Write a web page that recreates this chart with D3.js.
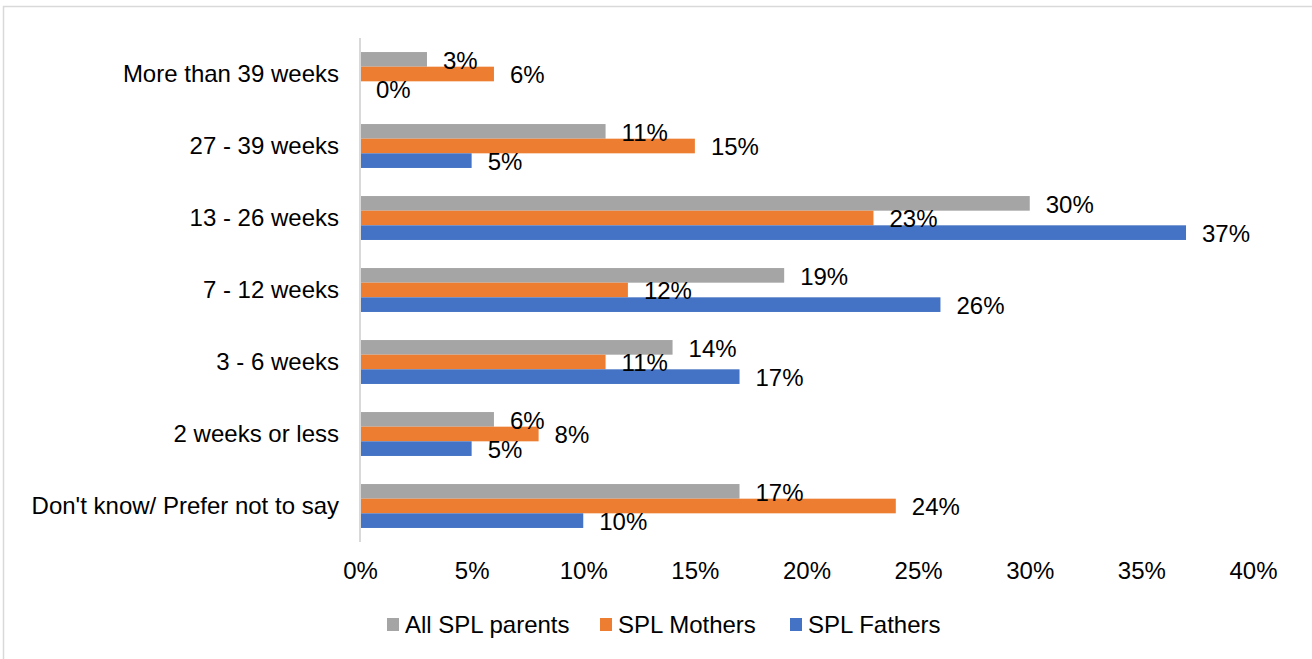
<!DOCTYPE html>
<html>
<head>
<meta charset="utf-8">
<title>SPL length</title>
<style>
  html, body {margin: 0; padding: 0; background: #fff; overflow: hidden;}
  svg {display: block; font-family: "Liberation Sans", Arial, sans-serif;}
</style>
</head>
<body>
<div id="chart"></div>
<script src="https://cdn.jsdelivr.net/npm/d3@7"></script>
<script>
// chart values
var categories = ["More than 39 weeks", "27 - 39 weeks", "13 - 26 weeks", "7 - 12 weeks",
                  "3 - 6 weeks", "2 weeks or less", "Don't know/ Prefer not to say"];
var seriesNames = ["All SPL parents", "SPL Mothers", "SPL Fathers"];
var allParents = [3, 11, 30, 19, 14, 6, 17];
var mothers = [6, 15, 23, 12, 11, 8, 24];
var fathers = [0, 5, 37, 26, 17, 5, 10];
var xTicks = [0, 5, 10, 15, 20, 25, 30, 35, 40];
var colors = ["#a5a5a5", "#ed7d31", "#4472c4"];

var seriesValues = [allParents, mothers, fathers];

var width = 1312, height = 659;
var plot = {left: 360, right: 1253, top: 38, bottom: 542};
var fontSize = "24px";

var svg = d3.select("#chart").append("svg")
    .attr("width", width)
    .attr("height", height);

// outer chart border (only top/left show in the frame)
svg.append("rect")
    .attr("x", 3.5).attr("y", 6.5)
    .attr("width", 1320).attr("height", 670)
    .attr("fill", "none")
    .attr("stroke", "#d9d9d9")
    .attr("stroke-width", 1.5);

var x = d3.scaleLinear().domain([0, 40]).range([plot.left, plot.right]);
var y = d3.scaleBand().domain(categories).range([plot.top, plot.bottom])
    .paddingInner(0.39).paddingOuter(0.195);
var ySub = d3.scaleBand().domain(seriesNames).range([0, y.bandwidth()]);

var rows = [];
categories.forEach(function(c, i) {
    seriesNames.forEach(function(s, j) {
        rows.push({cat: c, series: s, idx: j, value: seriesValues[j][i]});
    });
});

svg.selectAll("rect.bar")
    .data(rows)
  .enter().append("rect")
    .attr("class", "bar")
    .attr("x", x(0))
    .attr("y", function(d) {return y(d.cat) + ySub(d.series);})
    .attr("width", function(d) {return x(d.value) - x(0);})
    .attr("height", ySub.bandwidth())
    .attr("fill", function(d) {return colors[d.idx];});

// value labels
svg.selectAll("text.val")
    .data(rows)
  .enter().append("text")
    .attr("class", "val")
    .attr("x", function(d) {return x(d.value) + 16;})
    .attr("y", function(d) {return y(d.cat) + ySub(d.series) + ySub.bandwidth() / 2 + 1;})
    .attr("dy", "0.35em")
    .attr("font-size", fontSize)
    .attr("fill", "#000")
    .text(function(d) {return d.value + "%";});

// category axis
var yAxis = svg.append("g")
    .attr("transform", "translate(" + plot.left + ",0)")
    .call(d3.axisLeft(y).tickSize(0).tickPadding(21));
yAxis.select(".domain")
    .attr("stroke", "#d9d9d9")
    .attr("stroke-width", 2)
    .attr("d", "M0," + plot.top + "V" + plot.bottom);
yAxis.selectAll("text")
    .attr("font-size", fontSize)
    .attr("font-family", "'Liberation Sans', Arial, sans-serif")
    .attr("fill", "#000");

// value axis (labels only)
var xAxis = svg.append("g")
    .attr("transform", "translate(0," + plot.bottom + ")")
    .call(d3.axisBottom(x).tickValues(xTicks).tickSize(0).tickPadding(20)
        .tickFormat(function(d) {return d + "%";}));
xAxis.select(".domain").remove();
xAxis.selectAll("text")
    .attr("font-size", fontSize)
    .attr("font-family", "'Liberation Sans', Arial, sans-serif")
    .attr("fill", "#000");

// legend
var legendX = [387, 600, 790];
var legend = svg.selectAll("g.legend")
    .data(seriesNames)
  .enter().append("g")
    .attr("class", "legend")
    .attr("transform", function(d, i) {return "translate(" + legendX[i] + ",618)";});
legend.append("rect")
    .attr("width", 12).attr("height", 13)
    .attr("fill", function(d, i) {return colors[i];});
legend.append("text")
    .attr("x", 18).attr("y", 7)
    .attr("dy", "0.35em")
    .attr("font-size", fontSize)
    .attr("fill", "#000")
    .text(function(d) {return d;});
</script>
</body>
</html>
